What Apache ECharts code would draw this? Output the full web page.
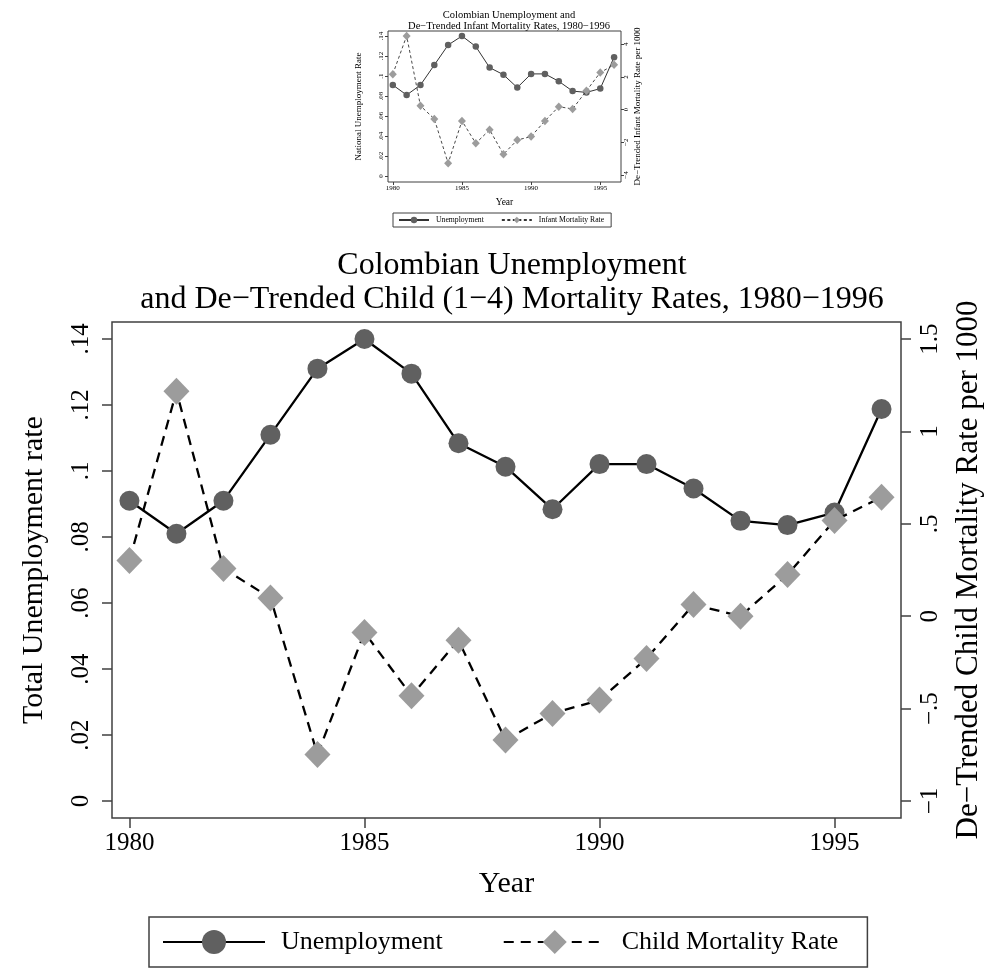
<!DOCTYPE html>
<html>
<head>
<meta charset="utf-8">
<script src="https://cdn.jsdelivr.net/npm/echarts@6/dist/echarts.min.js"></script>
<style>
  html, body { margin: 0; padding: 0; background: #fff; }
  #chart { width: 992px; height: 971px; }
</style>
</head>
<body>
<div id="chart"></div>
<script>
// data
const years = [1980, 1981, 1982, 1983, 1984, 1985, 1986, 1987, 1988, 1989, 1990, 1991, 1992, 1993, 1994, 1995, 1996];
const unemployment = [0.091, 0.081, 0.091, 0.111, 0.131, 0.140, 0.1295, 0.1084, 0.1013, 0.0884, 0.1021, 0.1021, 0.0947, 0.0849, 0.0836, 0.0874, 0.1188];
const childMortality = [0.302, 1.217, 0.258, 0.099, -0.748, -0.088, -0.430, -0.130, -0.670, -0.526, -0.454, -0.229, 0.063, 0.0, 0.225, 0.518, 0.644];
const infantMortality = [2.17, 4.51, 0.23, -0.57, -3.28, -0.69, -2.06, -1.24, -2.73, -1.86, -1.65, -0.69, 0.18, 0.04, 1.15, 2.27, 2.74];

// tick labels
const yearTicks = [1980, 1985, 1990, 1995];
const unempTicks = [0, 0.02, 0.04, 0.06, 0.08, 0.1, 0.12, 0.14];
const childTicks = [-1, -0.5, 0, 0.5, 1, 1.5];
const infantTicks = [-4, -2, 0, 2, 4];

const FONT = 'Liberation Serif';
const FRAME = '#404040';
const DARK = '#606060';
const LIGHT = '#9c9c9c';

// stata style numbers: .14, −.5
function stataNum(v) {
  if (v === 0) return '0';
  let s = String(+Math.abs(v).toFixed(3)).replace(/^0\./, '.');
  return (v < 0 ? '\u2212' : '') + s;
}

function pairs(vals) {
  return years.map((y, i) => [y, vals[i]]);
}

function xAxisCfg(grid, min, max, font, tickLen, margin, nameSize, nameGap) {
  return {
    type: 'value', gridIndex: grid, position: 'bottom', min: min, max: max,
    name: 'Year', nameLocation: 'middle', nameGap: nameGap,
    nameTextStyle: {fontFamily: FONT, fontSize: nameSize, color: '#000'},
    axisLine: {show: false, onZero: false},
    axisTick: {show: true, length: tickLen, customValues: yearTicks, lineStyle: {color: FRAME, width: grid === 0 ? 1.5 : 1}},
    axisLabel: {customValues: yearTicks, fontFamily: FONT, fontSize: font, color: '#000', margin: margin, formatter: v => String(v)},
    splitLine: {show: false}
  };
}

function yAxisCfg(grid, pos, name, min, max, ticks, font, tickLen, margin, nameSize, nameGap) {
  return {
    type: 'value', gridIndex: grid, position: pos, min: min, max: max,
    name: name, nameLocation: 'middle', nameRotate: 90, nameGap: nameGap,
    nameTextStyle: {fontFamily: FONT, fontSize: nameSize, color: '#000'},
    axisLine: {show: false, onZero: false},
    axisTick: {show: true, length: tickLen, customValues: ticks, lineStyle: {color: FRAME, width: grid === 0 ? 1.5 : 1}},
    axisLabel: {customValues: ticks, rotate: 90, fontFamily: FONT, fontSize: font, color: '#000', margin: margin, formatter: stataNum},
    splitLine: {show: false}
  };
}

const chart = echarts.init(document.getElementById('chart'));
chart.setOption({
  animation: false,
  backgroundColor: '#fff',
  title: [
    {
      text: 'Colombian Unemployment\nand De\u2212Trended Child (1\u22124) Mortality Rates, 1980\u22121996',
      left: 507, top: 244, textAlign: 'center',
      textStyle: {fontFamily: FONT, fontSize: 32, fontWeight: 'normal', color: '#000', lineHeight: 34}
    },
    {
      text: 'Colombian Unemployment and\nDe\u2212Trended Infant Mortality Rates, 1980\u22121996',
      left: 504, top: 5, textAlign: 'center',
      textStyle: {fontFamily: FONT, fontSize: 10.5, fontWeight: 'normal', color: '#000', lineHeight: 10.5}
    }
  ],
  grid: [
    {left: 112, top: 322, width: 791, height: 496, show: true, borderColor: FRAME, borderWidth: 1.5, backgroundColor: '#fff'},
    {left: 388, top: 31, width: 233, height: 151, show: true, borderColor: FRAME, borderWidth: 1, backgroundColor: '#fff'}
  ],
  legend: [
    {
      data: ['Unemployment', 'Child Mortality Rate'],
      left: 149, top: 917, orient: 'horizontal',
      padding: [12, 29, 12, 13], itemGap: 60, itemWidth: 102, itemHeight: 30,
      borderColor: FRAME, borderWidth: 1.5,
      textStyle: {fontFamily: FONT, fontSize: 26, color: '#000', padding: [0, 0, 0, 11]}
    },
    {
      data: ['Unemployment (inset)', 'Infant Mortality Rate'],
      formatter: n => n.replace(' (inset)', ''),
      left: 393, top: 213, orient: 'horizontal',
      padding: [3, 7, 3, 5], itemGap: 17, itemWidth: 30, itemHeight: 8,
      borderColor: FRAME, borderWidth: 1,
      textStyle: {fontFamily: FONT, fontSize: 7.7, color: '#000', padding: [0, 0, 0, 2]}
    }
  ],
  xAxis: [
    xAxisCfg(0, 1979.629, 1996.414, 25, 10, 13, 30, 51),
    xAxisCfg(1, 1979.652, 1996.5, 7, 3, 2.5, 9.5, 15)
  ],
  yAxis: [
    yAxisCfg(0, 'left', 'Total Unemployment rate', -0.00515, 0.14515, unempTicks, 25, 10, 18, 30, 63),
    yAxisCfg(0, 'right', 'De\u2212Trended Child Mortality Rate per 1000', -1.092, 1.592, childTicks, 25, 10, 16.5, 31, 52),
    yAxisCfg(1, 'left', 'National Unemployment Rate', -0.006, 0.145, unempTicks, 7, 3, 3.5, 9, 24.5),
    yAxisCfg(1, 'right', 'De\u2212Trended Infant Mortality Rate per 1000', -4.43, 4.81, infantTicks, 7, 3, 2, 9, 12)
  ],
  series: [
    {
      name: 'Unemployment', type: 'line', xAxisIndex: 0, yAxisIndex: 0,
      data: pairs(unemployment),
      symbol: 'circle', symbolSize: 20,
      itemStyle: {color: DARK, borderWidth: 0},
      lineStyle: {color: '#000', width: 2.3, type: 'solid'},
      z: 2
    },
    {
      name: 'Child Mortality Rate', type: 'line', xAxisIndex: 0, yAxisIndex: 1,
      data: pairs(childMortality),
      symbol: 'diamond', symbolSize: [26, 27],
      itemStyle: {color: LIGHT, borderWidth: 0},
      lineStyle: {color: '#000', width: 2.3, type: [10, 7]},
      z: 3
    },
    {
      name: 'Unemployment (inset)', type: 'line', xAxisIndex: 1, yAxisIndex: 2,
      data: pairs(unemployment),
      symbol: 'circle', symbolSize: 6.5,
      itemStyle: {color: DARK, borderWidth: 0},
      lineStyle: {color: '#333', width: 1, type: 'solid'},
      z: 2
    },
    {
      name: 'Infant Mortality Rate', type: 'line', xAxisIndex: 1, yAxisIndex: 3,
      data: pairs(infantMortality),
      symbol: 'diamond', symbolSize: [8, 8.5],
      itemStyle: {color: LIGHT, borderWidth: 0},
      lineStyle: {color: '#333', width: 0.9, type: [3, 2.5]},
      z: 3
    }
  ]
});
</script>
</body>
</html>
